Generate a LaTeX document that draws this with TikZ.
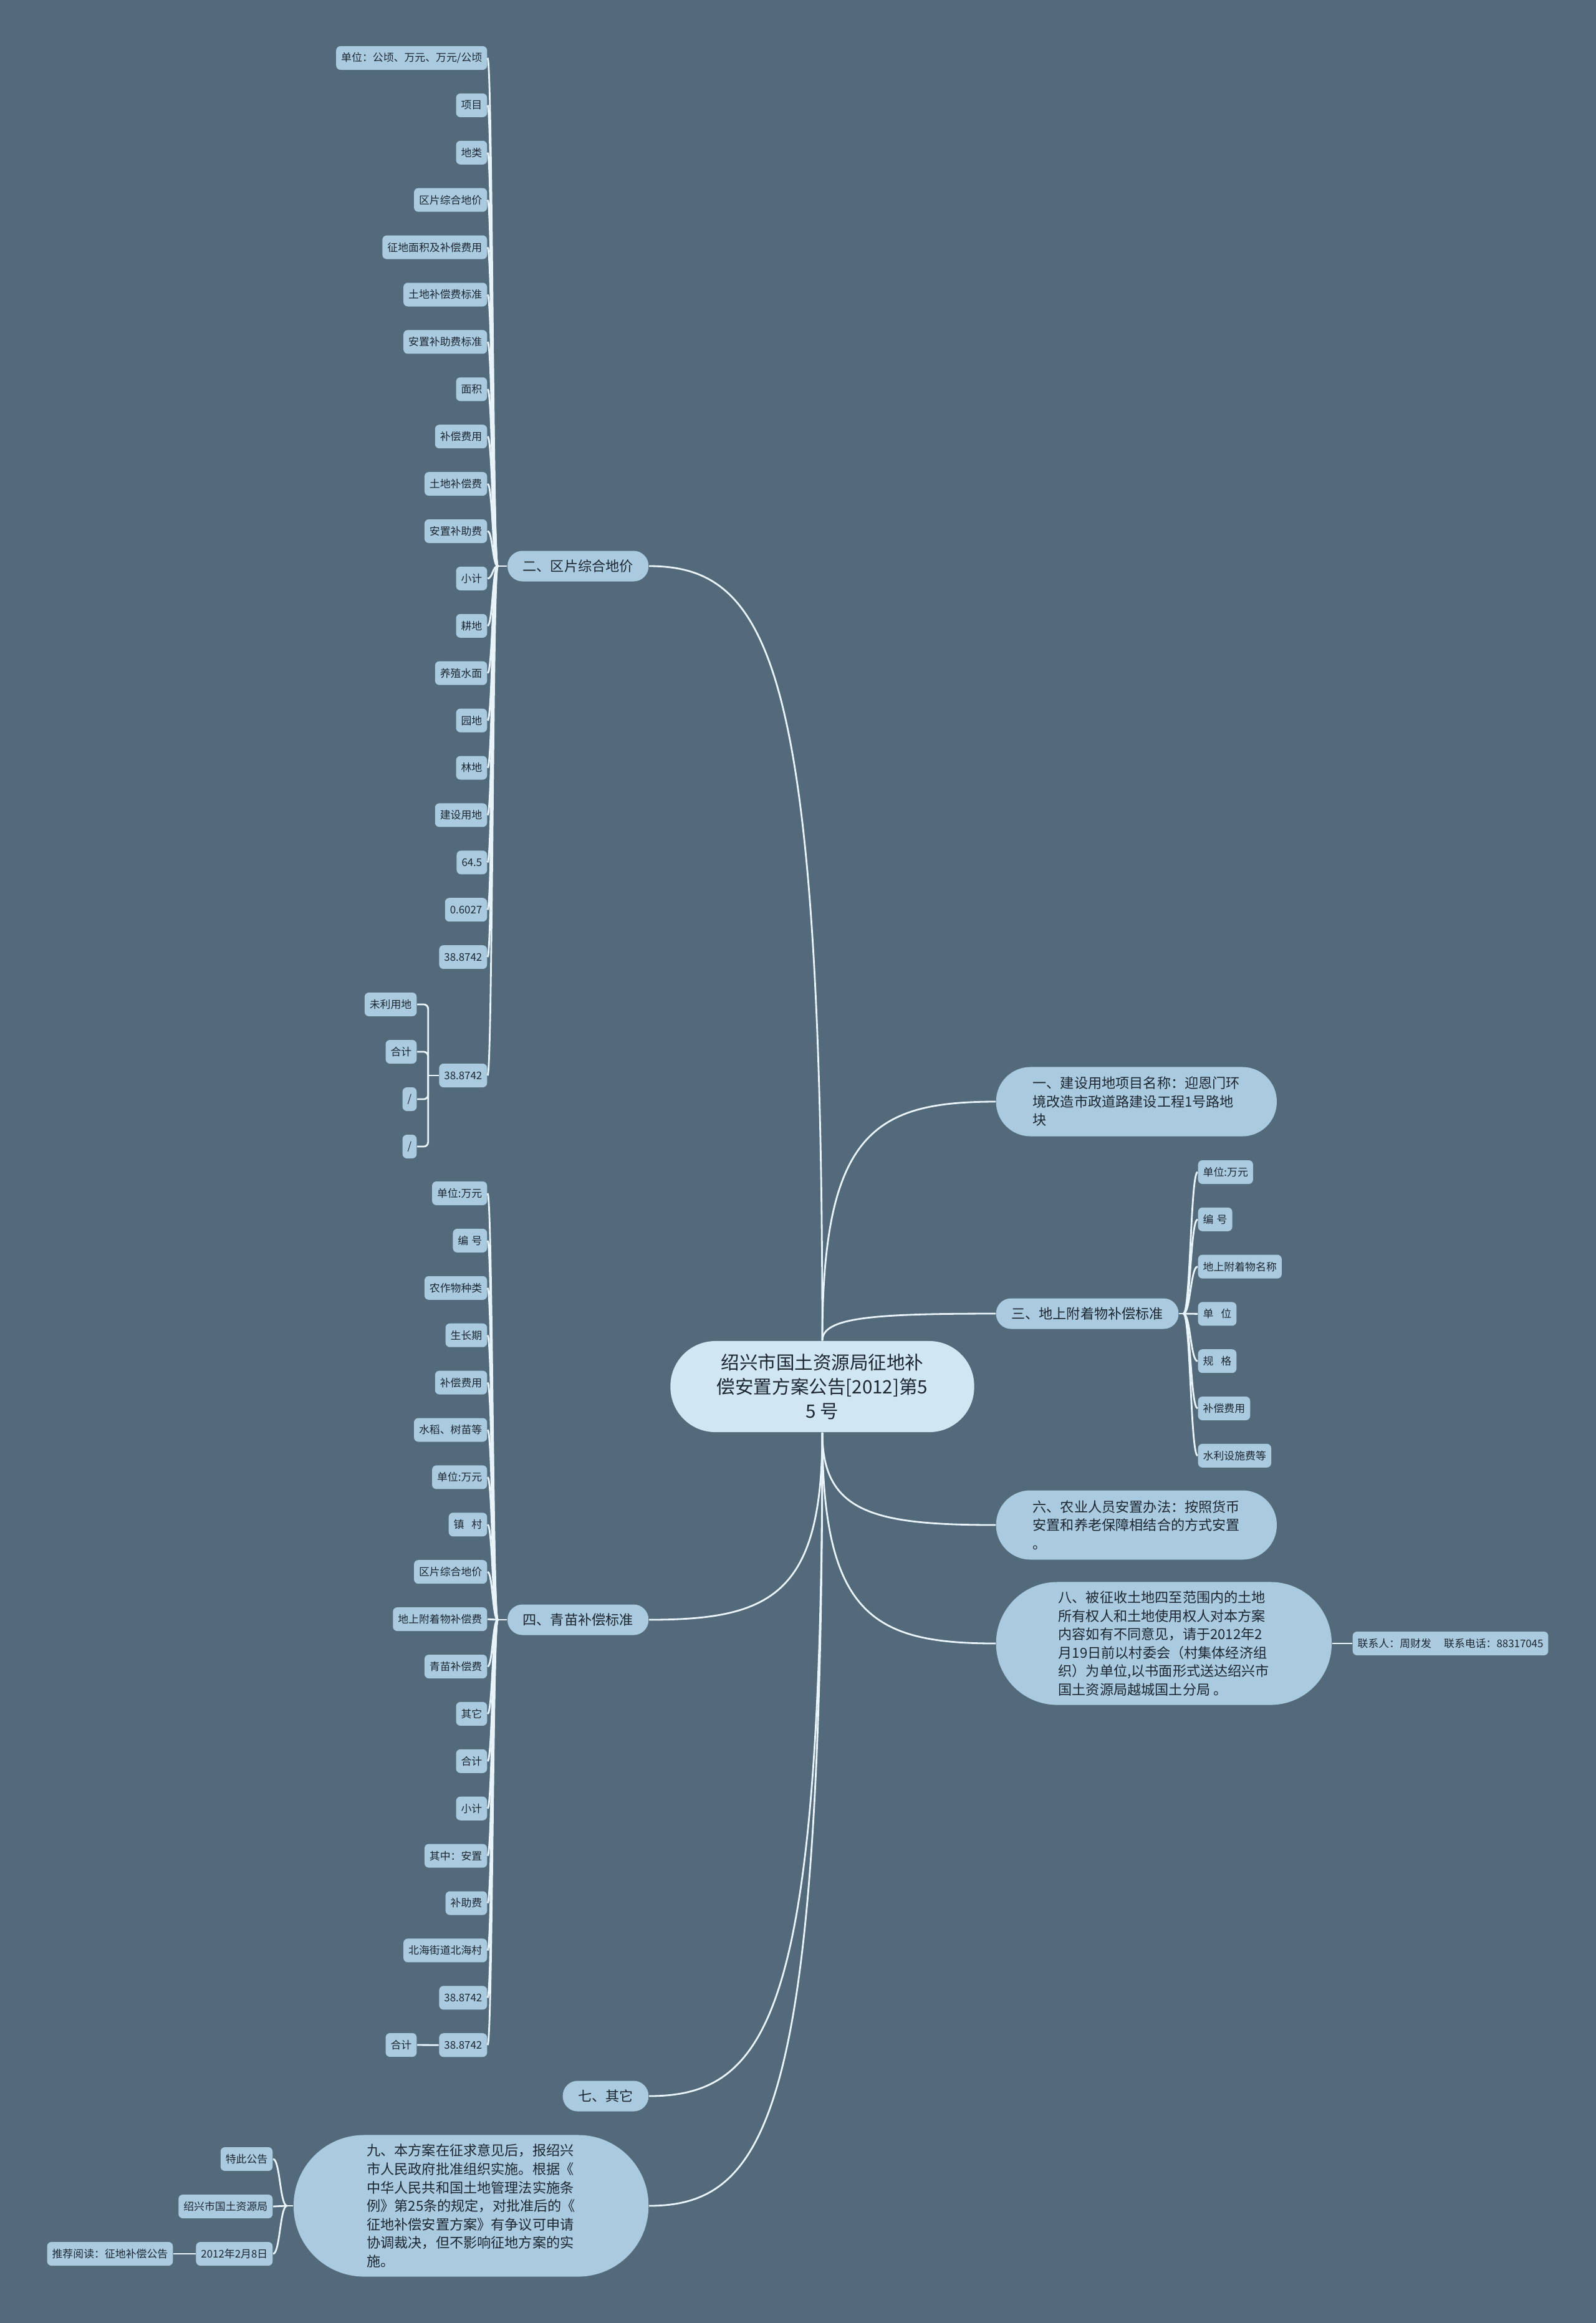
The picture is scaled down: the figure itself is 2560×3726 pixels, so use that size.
\documentclass[tikz,border=0pt]{standalone}
\usepackage{fontspec}
\setmainfont{Noto Sans CJK SC}
\usetikzlibrary{positioning, calc}

\definecolor{bgcol}{HTML}{536A7A}
\definecolor{nodefill}{HTML}{AACAE0}
\definecolor{rootfill}{HTML}{D0E6F2}
\definecolor{linkcol}{HTML}{E8F4FA}
\definecolor{ink}{HTML}{1D2731}

\begin{document}
\begin{tikzpicture}[x=0.01cm, y=-0.01cm,
	root/.style={fill=rootfill, text=ink, rounded corners=0.72cm, minimum width=4.87cm, minimum height=1.46cm, align=center, inner sep=0pt, font=\fontsize{8.4}{11}\selectfont},
	topic/.style={fill=nodefill, text=ink, rounded corners=0.24cm, minimum height=0.49cm, inner xsep=0.245cm, inner ysep=0pt, font=\fontsize{6.3}{8}\selectfont},
	note/.style={fill=nodefill, text=ink, align=left, inner sep=0pt, font=\fontsize{6.3}{8.4}\selectfont},
	leaf/.style={fill=nodefill, text=ink, rounded corners=0.07cm, minimum height=0.38cm, inner xsep=0.08cm, inner ysep=0pt, font=\fontsize{4.8}{6}\selectfont},
	link/.style={draw=linkcol, line width=0.8pt},
	branch/.style={to path={.. controls ($(\tikztostart)!0.87!(\tikztostart|-\tikztotarget)$) and ($(\tikztotarget)!0.7!(\tikztotarget-|\tikztostart)$) .. (\tikztotarget)}},
	fan/.style={to path={.. controls ($(\tikztostart)!0.5!(\tikztostart-|\tikztotarget)$) and ($(\tikztotarget)!0.5!(\tikztotarget-|\tikztostart)$) .. (\tikztotarget)}}]

	\fill[bgcol] (0,0) rectangle (2560,3726);
	\useasboundingbox (0,0) rectangle (2560,3726);

	% central topic
	\node (root) [root] at (1319,2224) {绍兴市国土资源局征地补\\偿安置方案公告[2012]第5\\5 号};

	% main branches
	\node (s2) [topic, anchor=east] at (1041,908) {二、区片综合地价};
	\node (s4) [topic, anchor=east] at (1041,2598) {四、青苗补偿标准};
	\node (s7) [topic, anchor=east] at (1041,3362) {七、其它};
	\node (s3) [topic, anchor=west] at (1597,2107) {三、地上附着物补偿标准};
	\node (s1) [note, anchor=west, minimum width=4.5cm, minimum height=1.11cm, rounded corners=0.55cm] at (1597,1767)
		{一、建设用地项目名称：迎恩门环\\境改造市政道路建设工程1号路地\\块};
	\node (s6) [note, anchor=west, minimum width=4.5cm, minimum height=1.11cm, rounded corners=0.55cm] at (1597,2446)
		{六、农业人员安置办法：按照货币\\安置和养老保障相结合的方式安置\\。};
	\node (s8) [note, anchor=west, minimum width=5.38cm, minimum height=1.97cm, rounded corners=0.98cm] at (1597,2636)
		{八、被征收土地四至范围内的土地\\所有权人和土地使用权人对本方案\\内容如有不同意见，请于2012年2\\月19日前以村委会（村集体经济组\\织）为单位,以书面形式送达绍兴市\\国土资源局越城国土分局 。};
	\node (s9) [note, anchor=east, minimum width=5.69cm, minimum height=2.27cm, rounded corners=1.13cm] at (1041,3538)
		{九、本方案在征求意见后，报绍兴\\市人民政府批准组织实施。根据《\\中华人民共和国土地管理法实施条\\例》第25条的规定，对批准后的《\\征地补偿安置方案》有争议可申请\\协调裁决，但不影响征地方案的实\\施。};
	\node (phone) [leaf, anchor=west] at (2169,2636) {联系人：周财发\hspace{1.2em}联系电话：88317045};

	\draw[link] (root.north) to[branch] (s2.east);
	\draw[link] (root.north) to[branch] (s1.west);
	\draw[link] (root.north) to[branch] (s3.west);
	\draw[link] (root.south) to[branch] (s4.east);
	\draw[link] (root.south) to[branch] (s6.west);
	\draw[link] (root.south) to[branch] (s8.west);
	\draw[link] (root.south) to[branch] (s7.east);
	\draw[link] (root.south) to[branch] (s9.east);
	\draw[link] (s8.east) -- (phone.west);

	% branch two
	\coordinate (j2) at ($(s2.west)+(-15,0)$);
	\draw[link] (s2.west) -- (j2);
	\foreach \t [count=\i] in {{单位：公顷、万元、万元/公顷}, 项目, 地类, 区片综合地价, 征地面积及补偿费用, 土地补偿费标准, 安置补助费标准, 面积, 补偿费用, 土地补偿费, 安置补助费, 小计, 耕地, 养殖水面, 园地, 林地, 建设用地, 64.5, 0.6027, 38.8742} {
		\node (a\i) [leaf, anchor=east] at (782,{93+75.9*(\i-1)}) {\t};
		\draw[link] (j2) to[fan] (a\i.east);
	}
	\node (a21) [leaf, anchor=east] at (782,1725) {38.8742};
	\draw[link] (j2) to[fan] (a21.east);
	\coordinate (k2) at ($(a21.west)+(-17,0)$);
	\draw[link] (a21.west) -- (k2);
	\foreach \t [count=\i] in {未利用地, 合计, {/}, {/}} {
		\node (u\i) [leaf, anchor=east] at (669,{1611+76*(\i-1)}) {\t};
		\draw[link, rounded corners=2pt] (k2) |- (u\i.east);
	}

	% branch four
	\coordinate (j4) at ($(s4.west)+(-15,0)$);
	\draw[link] (s4.west) -- (j4);
	\foreach \t [count=\i] in {单位:万元, 编\hspace{0.3em}号, 农作物种类, 生长期, 补偿费用, 水稻、树苗等, 单位:万元, 镇\hspace{0.7em}村, 区片综合地价, 地上附着物补偿费, 青苗补偿费, 其它, 合计, 小计, 其中：安置, 补助费, 北海街道北海村, 38.8742, 38.8742} {
		\node (b\i) [leaf, anchor=east] at (782,{1914+75.9*(\i-1)}) {\t};
		\draw[link] (j4) to[fan] (b\i.east);
	}
	\node (b20) [leaf, anchor=east] at (669,3280) {合计};
	\draw[link] (b19.west) -- (b20.east);

	% branch three
	\coordinate (j3) at ($(s3.east)+(7,0)$);
	\draw[link] (s3.east) -- (j3);
	\foreach \t [count=\i] in {单位:万元, 编\hspace{0.3em}号, 地上附着物名称, 单\hspace{0.7em}位, 规\hspace{0.7em}格, 补偿费用, 水利设施费等} {
		\node (c\i) [leaf, anchor=west] at (1921,{1880+75.8*(\i-1)}) {\t};
		\draw[link] (j3) to[fan] (c\i.west);
	}

	% branch nine
	\coordinate (j9) at ($(s9.west)+(-10,0)$);
	\draw[link] (s9.west) -- (j9);
	\foreach \t [count=\i] in {特此公告, 绍兴市国土资源局, 2012年2月8日} {
		\node (d\i) [leaf, anchor=east] at (438,{3463+76*(\i-1)}) {\t};
		\draw[link] (j9) to[fan] (d\i.east);
	}
	\node (d4) [leaf, anchor=east] at (278,3615) {推荐阅读：征地补偿公告};
	\draw[link] (d3.west) -- (d4.east);
\end{tikzpicture}
\end{document}
